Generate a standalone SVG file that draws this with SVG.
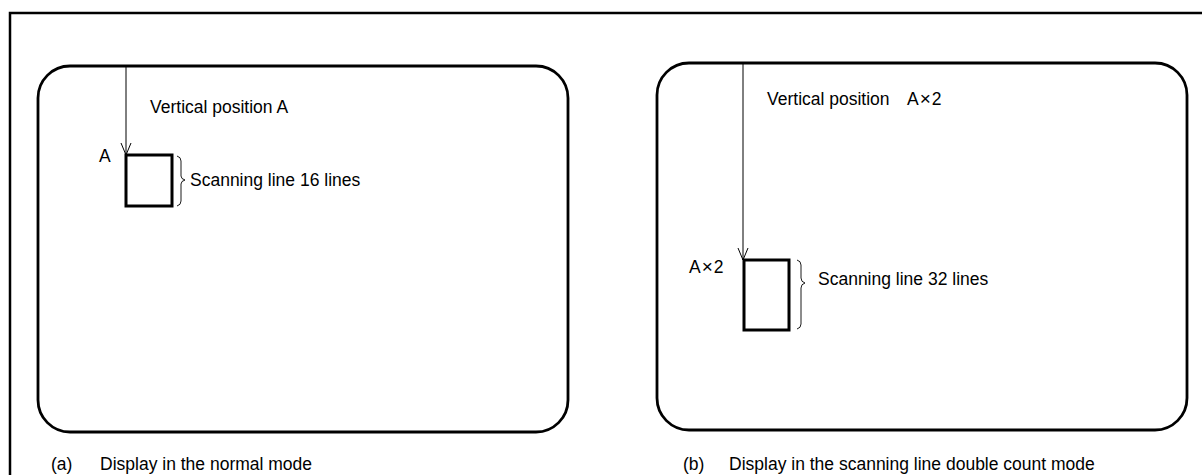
<svg xmlns="http://www.w3.org/2000/svg" width="1202" height="475" viewBox="0 0 1202 475">
<style>
  .frame { fill: none; stroke: #000; stroke-width: 2.5; }
  .panel { fill: none; stroke: #000; stroke-width: 2.8; }
  .box { fill: none; stroke: #000; stroke-width: 3; }
  .thin { fill: none; stroke: #000; stroke-width: 1; }
  .brace { fill: none; stroke: #000; stroke-width: 0.9; }
  .t { font-family: "Liberation Sans", Arial, sans-serif; font-size: 17.5px; fill: #000; }
  .x { font-size: 19px; }
</style>
<defs>
  <marker id="v" markerWidth="14" markerHeight="12" refX="13" refY="6" orient="auto" markerUnits="userSpaceOnUse" viewBox="0 0 14 12">
    <path d="M1,1 L13,6 L1,11" fill="none" stroke="#000" stroke-width="1"/>
  </marker>
</defs>
<rect width="1202" height="475" fill="#fff"/>
<g id="frame">
  <path class="frame" d="M10,475 V13 H1202"/>
</g>
<g id="panel-a">
  <rect class="panel" x="38" y="66" width="530" height="366" rx="32" ry="32"/>
  <rect class="box" x="126" y="155" width="46" height="51"/>
  <text class="t" x="99" y="162">A</text>
  <path class="brace" d="M177,156 Q181,157 181,161 V176 Q181,179 185,180 Q181,181 181,184 V201 Q181,205 177,206"/>
  <text class="t" x="190" y="186">Scanning line 16 lines</text>
  <text class="t" x="150" y="113">Vertical position A</text>
  <text class="t" x="51" y="470">(a)</text>
  <text class="t" x="100" y="470">Display in the normal mode</text>
</g>
<g id="panel-b">
  <rect class="panel" x="657" y="63" width="530" height="367" rx="32" ry="32"/>
  <rect class="box" x="744" y="260" width="45" height="70"/>
  <text class="t" x="689" y="273">A<tspan class="x" dx="1">×</tspan><tspan dx="1">2</tspan></text>
  <path class="brace" d="M797,260 Q801,261 801,265 V278 Q801,282 805,283 Q801,284 801,288 V324 Q801,328 797,329"/>
  <text class="t" x="818" y="285">Scanning line 32 lines</text>
  <text class="t" x="767" y="105">Vertical position</text>
  <text class="t" x="907" y="105">A<tspan class="x" dx="1">×</tspan><tspan dx="1">2</tspan></text>
  <text class="t" x="683" y="470">(b)</text>
  <text class="t" x="729" y="470">Display in the scanning line double count mode</text>
</g>
<g id="connectors">
  <line class="thin" x1="126" y1="66" x2="126" y2="155" marker-end="url(#v)"/>
  <line class="thin" x1="743" y1="63" x2="743" y2="260" marker-end="url(#v)"/>
</g>
</svg>
